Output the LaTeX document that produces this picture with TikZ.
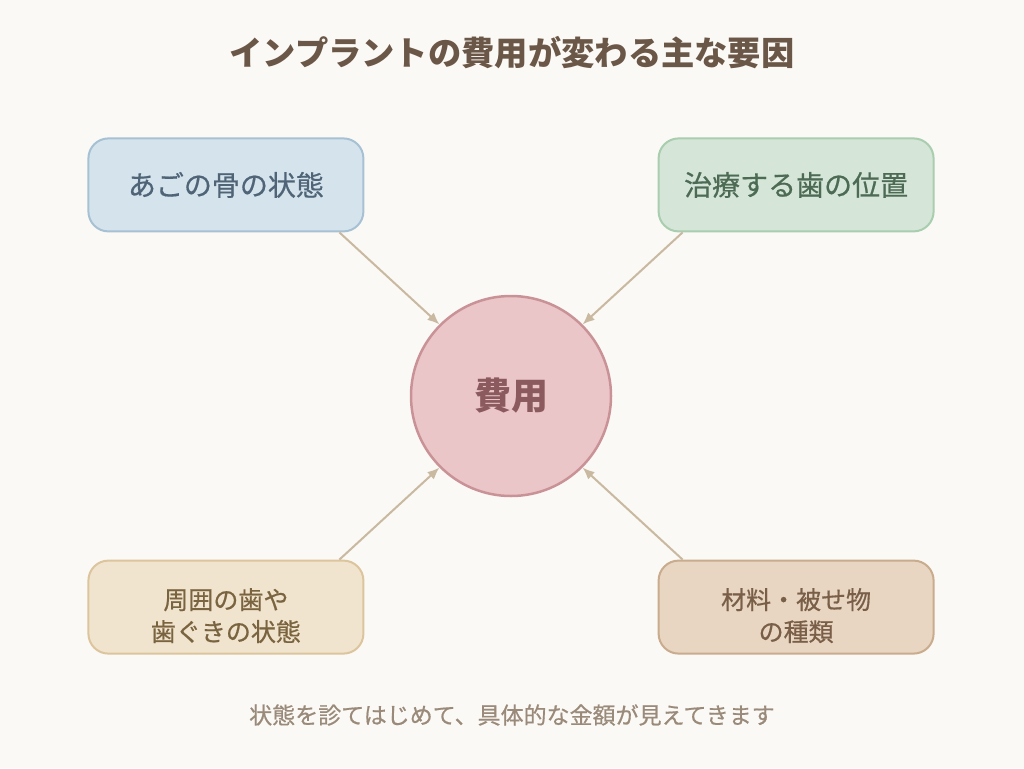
\documentclass[tikz,border=0pt]{standalone}
\usepackage{fontspec}
\setmainfont{Noto Sans CJK JP}
\newfontfamily\jpmedium[FakeBold=0.6]{Noto Sans CJK JP}
\usepackage{tikz}
\usetikzlibrary{arrows.meta, positioning, calc}
\definecolor{bgcream}{HTML}{FBF9F5}
\definecolor{titlebrown}{HTML}{6B5747}
\definecolor{notegrey}{HTML}{9A8A79}
\definecolor{arrowtan}{HTML}{C9B9A0}
\tikzset{
    block_blue/.style={rectangle, draw=blue_line, line width=2pt, rounded corners=20pt, fill=blue_fill, text=blue_text, minimum width=275pt, minimum height=93pt, align=center, font=\jpmedium\fontsize{28}{32}\selectfont},
    block_green/.style={block_blue, draw=green_line, fill=green_fill, text=green_text},
    block_yellow/.style={block_blue, draw=yellow_line, fill=yellow_fill, text=yellow_text, font=\jpmedium\fontsize{25}{32}\selectfont, text height=70pt},
    block_brown/.style={block_yellow, draw=brown_line, fill=brown_fill, text=brown_text},
    circle_pink/.style={circle, draw=pink_line, line width=2.5pt, fill=pink_fill, text=pink_text, minimum size=200pt, font=\fontsize{37}{40}\selectfont\bfseries},
    arrow/.style={-{Latex[length=12pt, width=10pt]}, line width=2pt, draw=arrowtan, fill=arrowtan}
}
\definecolor{blue_fill}{HTML}{D5E3EC}
\definecolor{blue_line}{HTML}{A6C1D4}
\definecolor{blue_text}{HTML}{4F6577}
\definecolor{green_fill}{HTML}{D5E6D8}
\definecolor{green_line}{HTML}{A8CDAF}
\definecolor{green_text}{HTML}{4C6A54}
\definecolor{yellow_fill}{HTML}{F1E4CF}
\definecolor{yellow_line}{HTML}{DCC59C}
\definecolor{yellow_text}{HTML}{7A6440}
\definecolor{brown_fill}{HTML}{E8D6C3}
\definecolor{brown_line}{HTML}{C9AB8D}
\definecolor{brown_text}{HTML}{7A5F48}
\definecolor{pink_fill}{HTML}{EBC6C9}
\definecolor{pink_line}{HTML}{C99297}
\definecolor{pink_text}{HTML}{8B5A5E}
\begin{document}
\begin{tikzpicture}[x=1pt, y=-1pt, node distance=92pt and 75pt]
    \fill[bgcream] (0,0) rectangle (1024,768);
    \useasboundingbox (0,0) rectangle (1024,768);

    \node (title) at (512,53) [text=titlebrown, font=\fontsize{33.3}{36}\selectfont\bfseries] {インプラントの費用が変わる主な要因};

    \node (cost) at (511,396) [circle_pink] {費用};
    \node (bone) [block_blue, above left=of cost] {あごの骨の状態};
    \node (place) [block_green, above right=of cost] {治療する歯の位置};
    \node (gum) [block_yellow, below left=of cost] {周囲の歯や\\歯ぐきの状態};
    \node (mat) [block_brown, below right=of cost] {材料・被せ物\\の種類};

    \node (note) at (512,715) [text=notegrey, font=\jpmedium\fontsize{23}{26}\selectfont] {状態を診てはじめて、具体的な金額が見えてきます};

    \draw [arrow] ($(bone.south east)+(-25,0)$) -- (cost.135);
    \draw [arrow] ($(place.south west)+(25,0)$) -- (cost.45);
    \draw [arrow] ($(gum.north east)+(-25,0)$) -- (cost.225);
    \draw [arrow] ($(mat.north west)+(25,0)$) -- (cost.315);
\end{tikzpicture}
\end{document}
